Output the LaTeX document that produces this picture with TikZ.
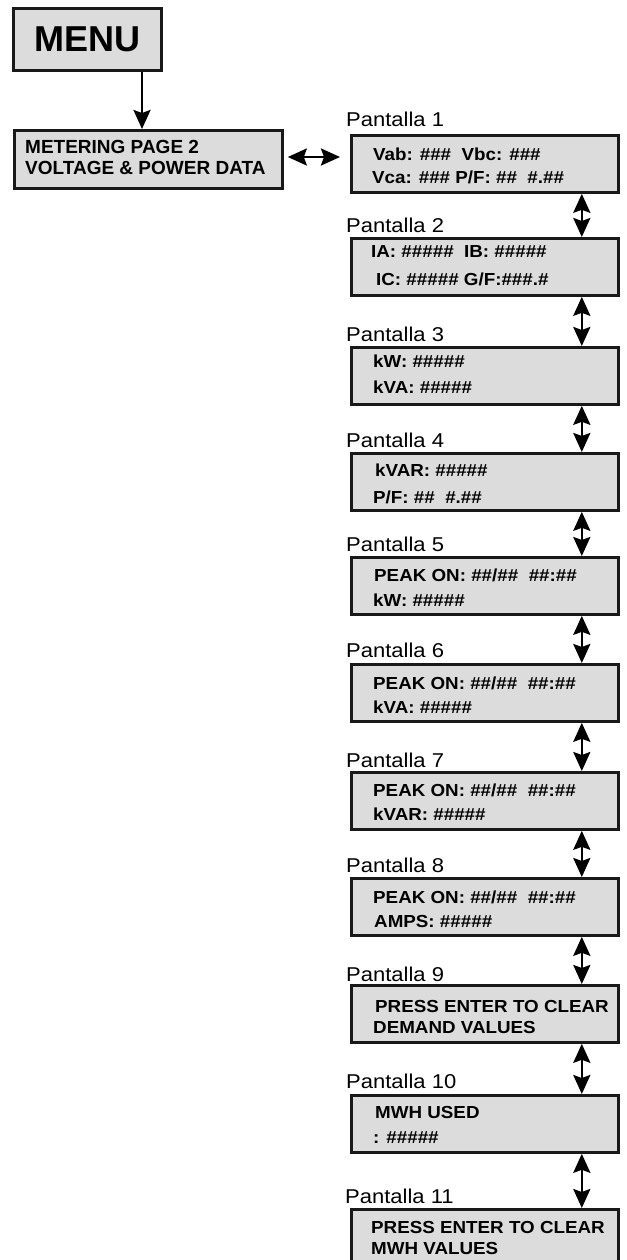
\documentclass[tikz,border=0pt]{standalone}
\usepackage{fontspec}
\setmainfont{Liberation Sans}
\newfontfamily\lblfont[FakeStretch=1.1]{Liberation Sans}
\newfontfamily\boxfont[FakeStretch=1.08]{Liberation Sans}
\usetikzlibrary{arrows.meta}
\definecolor{boxgray}{RGB}{220,220,220}
\definecolor{edge}{RGB}{25,25,25}
\begin{document}
\begin{tikzpicture}[x=1pt,y=-1pt,
  scr/.style={draw=edge, line width=2.8pt, fill=boxgray, minimum width=267pt, minimum height=57pt, anchor=north west, inner sep=0pt},
  lbl/.style={anchor=base west, inner sep=0pt, font={\lblfont\fontsize{20}{20}\selectfont}},
  txt/.style={anchor=base west, inner sep=0pt, font={\boxfont\bfseries\fontsize{17.4}{17.4}\selectfont}},
  dbl/.style={line width=2.6pt, draw=black, {Stealth[length=19pt,width=17pt,inset=3pt]}-{Stealth[length=19pt,width=17pt,inset=3pt]}},
  one/.style={line width=2.6pt, draw=black, -{Stealth[length=19pt,width=17pt,inset=3pt]}}]
\clip (0,0) rectangle (626,1260);
\fill[white] (0,0) rectangle (626,1260);
% menu
\node[draw=edge, line width=3pt, fill=boxgray, anchor=north west, minimum width=148pt, minimum height=62pt, inner sep=0pt,
  font={\bfseries\fontsize{36}{36}\selectfont}] (menu) at (12,7) {MENU};
\node[draw=edge, line width=2.8pt, fill=boxgray, anchor=north west, minimum width=268pt, minimum height=58pt, inner sep=0pt] (meter) at (13,129) {};
\node[anchor=base west, inner sep=0pt, font={\bfseries\fontsize{19}{19}\selectfont}] (m1) at (25,154) {METERING PAGE 2};
\node[anchor=base west, inner sep=0pt, font={\bfseries\fontsize{19}{19}\selectfont}] (m2) at (25,175) {VOLTAGE \& POWER DATA};
\coordinate (mx) at (142,0);
\draw[one] (menu.south -| mx) -- (mx |- meter.north);
% screens
\node[scr] (b1) at (350,134) {};
\node[scr] (b2) at (350,237) {};
\node[scr] (b3) at (350,346) {};
\node[scr] (b4) at (350,452) {};
\node[scr] (b5) at (350,556) {};
\node[scr] (b6) at (350,663) {};
\node[scr] (b7) at (350,771) {};
\node[scr] (b8) at (350,877) {};
\node[scr] (b9) at (350,984) {};
\node[scr] (b10) at (350,1094) {};
\node[scr, minimum height=70pt] (b11) at (350,1208) {};
% labels
\node[lbl] (l1) at (346,127) {Pantalla 1};
\node[lbl] (l2) at (346,233) {Pantalla 2};
\node[lbl] (l3) at (346,341) {Pantalla 3};
\node[lbl] (l4) at (346,447) {Pantalla 4};
\node[lbl] (l5) at (346,551) {Pantalla 5};
\node[lbl] (l6) at (346,657) {Pantalla 6};
\node[lbl] (l7) at (346,767) {Pantalla 7};
\node[lbl] (l8) at (346,872) {Pantalla 8};
\node[lbl] (l9) at (346,981) {Pantalla 9};
\node[lbl] (l10) at (346,1088) {Pantalla 10};
\node[lbl] (l11) at (345,1203) {Pantalla 11};
% texts
\node[txt] (t1a) at (373,161) {Vab: \#\#\#\ \ Vbc: \#\#\#};
\node[txt] (t1b) at (372,183) {Vca: \#\#\# P/F: \#\#\ \ \#.\#\#};
\node[txt] (t2a) at (371,257) {IA: \#\#\#\#\#\ \ IB: \#\#\#\#\#};
\node[txt] (t2b) at (376,285) {IC: \#\#\#\#\# G/F:\#\#\#.\#};
\node[txt] (t3a) at (373,367) {kW: \#\#\#\#\#};
\node[txt] (t3b) at (373,393) {kVA: \#\#\#\#\#};
\node[txt] (t4a) at (375,476) {kVAR: \#\#\#\#\#};
\node[txt] (t4b) at (373,503) {P/F: \#\#\ \ \#.\#\#};
\node[txt] (t5a) at (374,581) {PEAK ON: \#\#/\#\#\ \ \#\#:\#\#};
\node[txt] (t5b) at (373,606) {kW: \#\#\#\#\#};
\node[txt] (t6a) at (373,689) {PEAK ON: \#\#/\#\#\ \ \#\#:\#\#};
\node[txt] (t6b) at (373,713) {kVA: \#\#\#\#\#};
\node[txt] (t7a) at (373,796) {PEAK ON: \#\#/\#\#\ \ \#\#:\#\#};
\node[txt] (t7b) at (373,820) {kVAR: \#\#\#\#\#};
\node[txt] (t8a) at (373,903) {PEAK ON: \#\#/\#\#\ \ \#\#:\#\#};
\node[txt] (t8b) at (374,927) {AMPS: \#\#\#\#\#};
\node[txt] (t9a) at (375,1012) {PRESS ENTER TO CLEAR};
\node[txt] (t9b) at (373,1033) {DEMAND VALUES};
\node[txt] (t10a) at (375,1118) {MWH USED};
\node[txt] (t10b) at (373,1143) {: \#\#\#\#\#};
\node[txt] (t11a) at (371,1233) {PRESS ENTER TO CLEAR};
\node[txt] (t11b) at (371,1254) {MWH VALUES};
% connectors
\draw[dbl, shorten <=4pt, shorten >=10pt] (meter.east |- 0,157) -- (b1.west |- 0,157);
\foreach \a/\b in {b1/b2,b2/b3,b3/b4,b4/b5,b5/b6,b6/b7,b7/b8,b8/b9,b9/b10,b10/b11}
  \draw[dbl] ([xshift=-38pt]\a.south east) -- ([xshift=-38pt]\b.north east);
\end{tikzpicture}
\end{document}
